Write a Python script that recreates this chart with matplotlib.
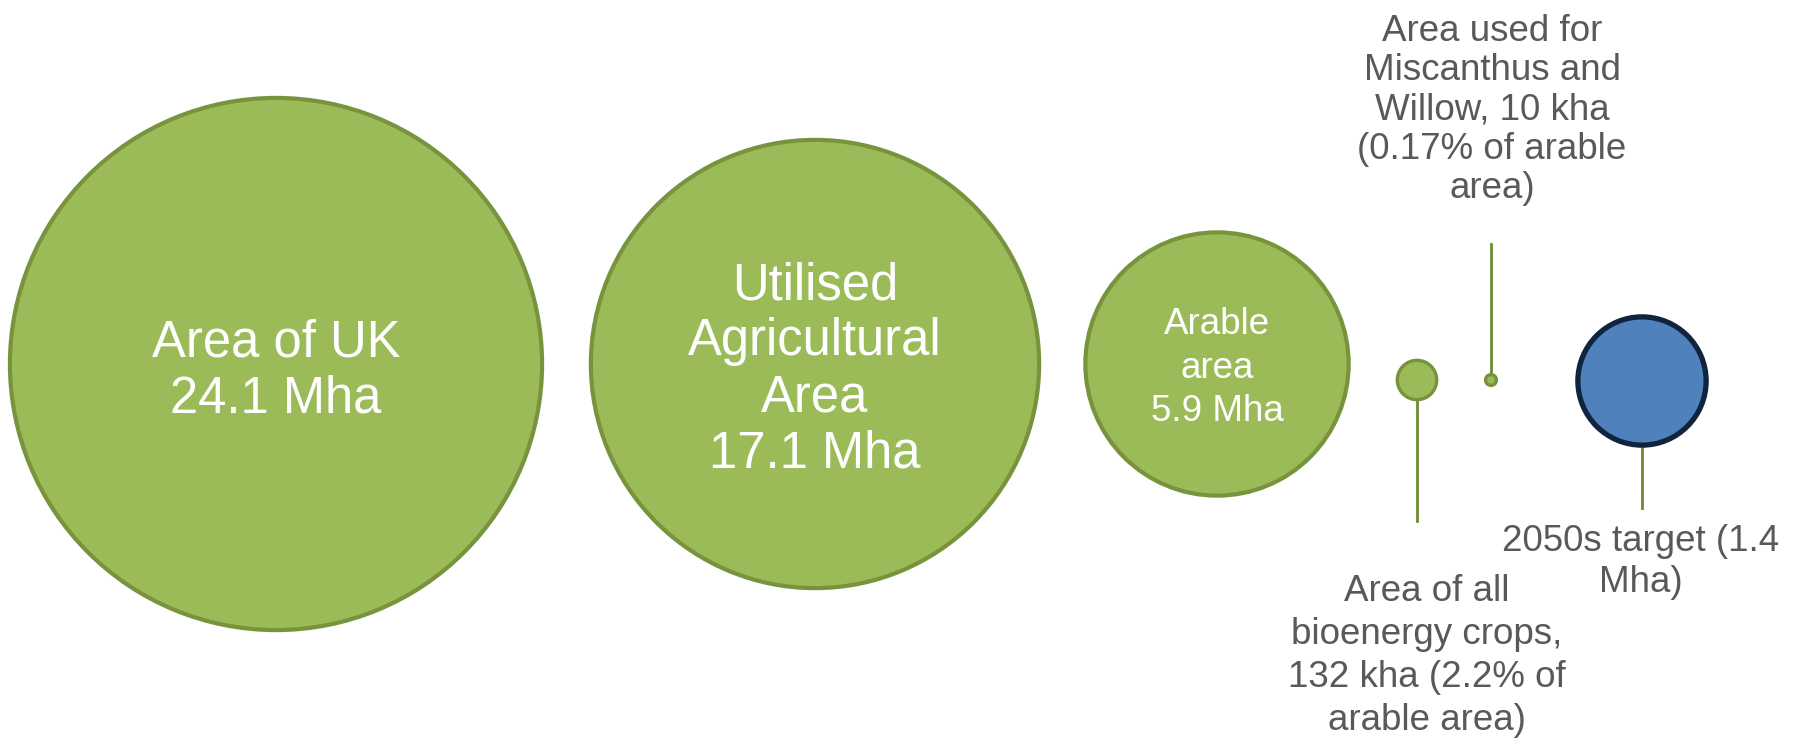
import matplotlib
matplotlib.use("Agg")
import matplotlib.pyplot as plt
from matplotlib.patches import Circle
import numpy as np

# ---- data ----
names = ["Area of UK", "Utilised Agricultural Area", "Arable area",
         "Area of all bioenergy crops", "Area used for Miscanthus and Willow",
         "2050s target"]
areas_mha = [24.1, 17.1, 5.9, 0.132, 0.010, 1.4]
labels = [
    "Area of UK\n24.1 Mha",
    "Utilised\nAgricultural\nArea\n17.1 Mha",
    "Arable\narea\n5.9 Mha",
    "Area of all\nbioenergy crops,\n132 kha (2.2% of\narable area)",
    "Area used for\nMiscanthus and\nWillow, 10 kha\n(0.17% of arable\narea)",
    "2050s target (1.4\nMha)",
]

# ---- layout (pixel space) ----
W, H = 1797, 739
centers_x = [276, 815, 1217, 1417, 1491, 1642]
centers_y = [364, 364, 364, 380, 380, 381]
k = 54.2  # radius scale: r = k*sqrt(area)

green_fill = "#9BBB59"
green_edge = "#77933C"
blue_fill = "#4F81BD"
blue_edge = "#10243E"
grey = "#595959"
FONT = "Liberation Sans"

fig = plt.figure(figsize=(W / 100, H / 100), dpi=100)
ax = fig.add_axes([0, 0, 1, 1])
ax.set_xlim(0, W)
ax.set_ylim(H, 0)
ax.set_aspect("equal")
ax.axis("off")

radii = [k * np.sqrt(a) for a in areas_mha]
for i, (cx, cy, r) in enumerate(zip(centers_x, centers_y, radii)):
    if i == 5:
        fc, ec, lw = blue_fill, blue_edge, 3.8
    else:
        fc, ec, lw = green_fill, green_edge, 3.0 if r > 20 else 2.4
    ax.add_patch(Circle((cx, cy), r, facecolor=fc, edgecolor=ec, lw=lw, zorder=2))

# inner labels
ax.text(centers_x[0], 371, labels[0], color="white", fontsize=36.5, family=FONT,
        ha="center", va="center", multialignment="center", linespacing=1.17, zorder=3)
ax.text(centers_x[1], 370, labels[1], color="white", fontsize=36.5, family=FONT,
        ha="center", va="center", multialignment="center", linespacing=1.19, zorder=3)
ax.text(centers_x[2], 368, labels[2], color="white", fontsize=26.5, family=FONT,
        ha="center", va="center", multialignment="center", linespacing=1.32, zorder=3)

# leader lines
line_c = "#6E8B33"
ax.plot([centers_x[3], centers_x[3]], [centers_y[3] + radii[3], 521], color=line_c, lw=2, zorder=1)
ax.plot([centers_x[4], centers_x[4]], [244, centers_y[4] - radii[4]], color=line_c, lw=2, zorder=1)
ax.plot([centers_x[5], centers_x[5]], [centers_y[5] + radii[5], 508], color=line_c, lw=2, zorder=1)

# outer labels
ax.text(1427, 656, labels[3], color=grey, fontsize=26.5, family=FONT,
        ha="center", va="center", multialignment="center", linespacing=1.30)
ax.text(1492, 110, labels[4], color=grey, fontsize=26.5, family=FONT,
        ha="center", va="center", multialignment="center", linespacing=1.16)
ax.text(1641, 562, labels[5], color=grey, fontsize=26.5, family=FONT,
        ha="center", va="center", multialignment="center", linespacing=1.19)

fig.savefig("out.png", dpi=100)
